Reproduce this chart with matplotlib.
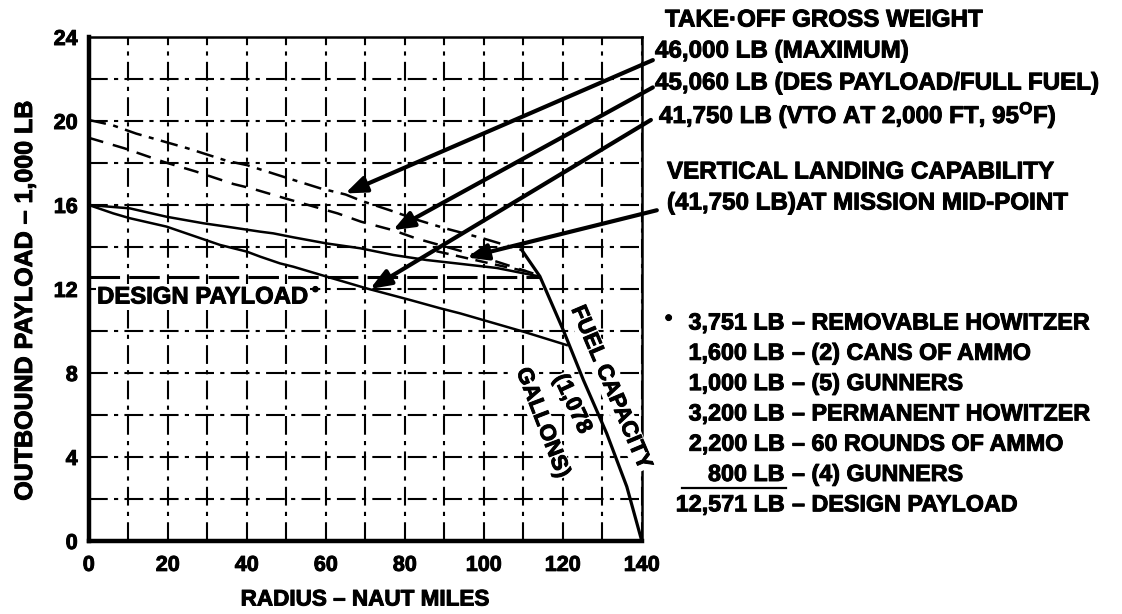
import matplotlib
matplotlib.use('Agg')
import matplotlib.pyplot as plt
import matplotlib.patheffects as pe
from matplotlib.lines import Line2D
from matplotlib.text import Text

plt.rcParams['font.family'] = ['Liberation Sans', 'DejaVu Sans']
plt.rcParams['font.weight'] = 'bold'
plt.rcParams['mathtext.fontset'] = 'custom'
plt.rcParams['mathtext.bf'] = 'Liberation Sans:bold'
plt.rcParams['mathtext.default'] = 'bf'

# take-off gross weight curves (radius in naut miles, payload in 1,000 lb)
tow_46000_x = [0, 6, 12, 25, 35, 40, 50, 58.5, 65, 69, 77, 83, 90, 100, 109.6]
tow_46000_y = [20.05, 19.8, 19.4, 18.7, 18.1, 17.9, 17.3, 16.8, 16.5, 16.2, 15.7, 15.3, 14.9, 14.4, 13.86]

tow_45060_x = [0, 9, 19, 27, 36.6, 41, 50, 63, 69, 77, 83, 90.6, 100, 106.6, 113.8]
tow_45060_y = [19.2, 18.7, 18.05, 17.6, 17.0, 16.8, 16.3, 15.6, 15.2, 14.8, 14.4, 14.0, 13.5, 13.1, 12.66]

upper_x = [0, 10.4, 19.7, 29, 34.9, 43.4, 46.7, 51.8, 60.2, 68.7, 77.1, 85.5, 94, 103.3, 110, 114]
upper_y = [16.0, 15.84, 15.44, 15.13, 14.97, 14.73, 14.65, 14.46, 14.17, 13.94, 13.62, 13.38, 13.2, 13.0, 12.75, 12.6]

vto_x = [0, 6.2, 10.4, 19.7, 33.2, 40, 43.4, 48.4, 51.8, 60.2, 70.3, 81.3, 89, 94, 110, 121]
vto_y = [16.0, 15.6, 15.37, 14.97, 14.1, 13.78, 13.54, 13.22, 13.06, 12.59, 12.03, 11.48, 11.08, 10.84, 9.97, 9.33]

vland_x = [88, 95, 102, 108, 112]
vland_y = [13.8, 13.5, 13.2, 12.95, 12.8]

fuel_x = [109.6, 114.2, 120.1, 125.2, 131.1, 136.2, 140]
fuel_y = [13.86, 12.6, 10.05, 7.67, 5.13, 2.59, 0]

design_payload = 12.571
design_payload_end = 114.2

x_ticks = [0, 20, 40, 60, 80, 100, 120, 140]
y_ticks = [0, 4, 8, 12, 16, 20, 24]

# leader arrows: (start, tip) in data units
arrows = [
    ((142.8, 22.9), (64.9, 16.55)),
    ((142.8, 21.6), (77.0, 14.8)),
    ((142.3, 20.05), (71.2, 12.0)),
    ((143.8, 15.75), (95.7, 13.5)),
]

header_lines = ['TAKE·OFF GROSS WEIGHT',
                '46,000 LB (MAXIMUM)',
                '45,060 LB (DES PAYLOAD/FULL FUEL)',
                '41,750 LB (VTO AT 2,000 FT, 95$^{\\mathbf{O}}$F)']
landing_lines = ['VERTICAL LANDING CAPABILITY',
                 '(41,750 LB)AT MISSION MID-POINT']

item_weights = ['3,751', '1,600', '1,000', '3,200', '2,200', '800', '12,571']
item_names = ['REMOVABLE HOWITZER', '(2) CANS OF AMMO', '(5) GUNNERS',
              'PERMANENT HOWITZER', '60 ROUNDS OF AMMO', '(4) GUNNERS',
              'DESIGN PAYLOAD']

W, H = 1122, 614
fig = plt.figure(figsize=(W / 100, H / 100), dpi=100)
ax = fig.add_axes([88.8 / W, 1 - 541 / H, 553 / W, 504 / H])


def fx(px):
    return px / W


def fy(py):
    return 1 - py / H


ax.set_xlim(0, 140)
ax.set_ylim(0, 24)
ax.set_xticks(x_ticks)
ax.set_yticks(y_ticks)
ax.set_xticks(range(0, 141, 10), minor=True)
ax.set_yticks(range(0, 25, 2), minor=True)
ax.tick_params(which='both', length=0)
ax.tick_params(axis='x', pad=10, labelsize=15.5)
ax.tick_params(axis='y', pad=8, labelsize=15.5)
for lab in ax.get_xticklabels() + ax.get_yticklabels():
    lab.set_fontweight('bold')

ax.grid(which='both', color='black', lw=1.5, dashes=(9, 3, 2, 3))
ax.set_axisbelow(True)

for side, w in [('left', 3.2), ('bottom', 3.2), ('top', 1.8), ('right', 1.8)]:
    ax.spines[side].set_linewidth(w)

ax.plot(tow_46000_x, tow_46000_y, color='black', lw=1.8, dashes=(7, 3, 2, 3))
ax.plot(tow_45060_x, tow_45060_y, color='black', lw=1.8, dashes=(6, 4))
ax.plot(upper_x, upper_y, color='black', lw=1.8)
ax.plot(vto_x, vto_y, color='black', lw=1.8)
ax.plot(vland_x, vland_y, color='black', lw=1.8, dashes=(5, 3))
ax.plot(fuel_x, fuel_y, color='black', lw=2.3)
ax.plot([0, design_payload_end], [design_payload, design_payload],
        color='black', lw=2.2, dashes=(10, 3))

for start, tip in arrows:
    ax.annotate('', xy=tip, xytext=start, annotation_clip=False,
                arrowprops=dict(arrowstyle='-|>,head_length=0.9,head_width=0.35',
                                lw=3, color='black', shrinkA=0, shrinkB=0,
                                mutation_scale=14))

ax.text(2.1, 11.62, 'DESIGN PAYLOAD', fontsize=17.2, fontweight='bold',
        ha='left', va='center',
        bbox=dict(facecolor='white', edgecolor='none', pad=1))
ax.text(56.5, 11.9, '•', fontsize=14, ha='left', va='center')

ax.text(132.1, 7.29, 'FUEL CAPACITY', fontsize=16, fontweight='bold',
        rotation=-67, rotation_mode='anchor', ha='center', va='center',
        bbox=dict(facecolor='white', edgecolor='none', pad=0.5))
ax.text(122.3, 6.52, '(1,078', fontsize=16, fontweight='bold',
        rotation=-65, rotation_mode='anchor', ha='center', va='center',
        bbox=dict(facecolor='white', edgecolor='none', pad=0.5))
ax.text(114.8, 5.62, 'GALLONS)', fontsize=16, fontweight='bold',
        rotation=-69, rotation_mode='anchor', ha='center', va='center',
        bbox=dict(facecolor='white', edgecolor='none', pad=0.5))

fig.text(fx(365), fy(600), 'RADIUS – NAUT MILES', fontsize=16.2,
         fontweight='bold', ha='center', va='center')
fig.text(fx(25), fy(301), 'OUTBOUND PAYLOAD – 1,000 LB', fontsize=18,
         fontweight='bold', ha='center', va='center', rotation=90)

header_x = [665, 655, 655, 659]
header_y = [20, 51, 83, 115]
for txt, x, y in zip(header_lines, header_x, header_y):
    fig.text(fx(x), fy(y), txt, fontsize=17.4, fontweight='bold',
             ha='left', va='center')
for i, txt in enumerate(landing_lines):
    fig.text(fx(667), fy(172 + 31 * i), txt, fontsize=17.4,
             fontweight='bold', ha='left', va='center')

fig.text(fx(665), fy(319), '•', fontsize=15, ha='left', va='center')
for i, (w, name) in enumerate(zip(item_weights, item_names)):
    y = 323 + 30.3 * i
    fig.text(fx(785), fy(y), f'{w} LB', fontsize=16.8, fontweight='bold',
             ha='right', va='center')
    fig.text(fx(792), fy(y), f'– {name}', fontsize=16.8, fontweight='bold',
             ha='left', va='center')
fig.add_artist(Line2D([fx(682), fx(786)], [fy(488), fy(488)],
                      color='black', lw=1.6))

# heavier glyph strokes for the printed look
for t in fig.findobj(Text):
    t.set_path_effects([pe.withStroke(linewidth=0.7, foreground='black')])

fig.savefig('out.png', dpi=100)
